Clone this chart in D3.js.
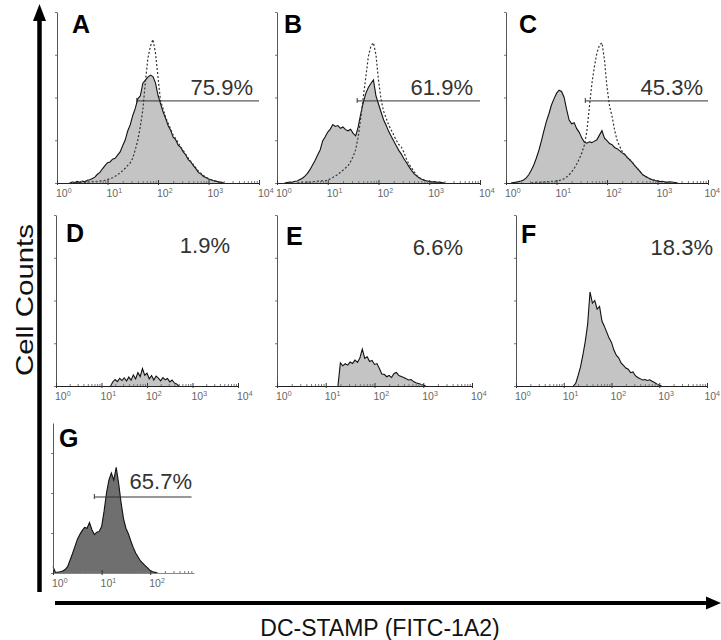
<!DOCTYPE html>
<html>
<head>
<meta charset="utf-8">
<script src="https://cdn.jsdelivr.net/npm/d3@7"></script>
<style>
body { margin: 0; background: #fff; }
text { font-family: "Liberation Sans", Arial, sans-serif; }
</style>
</head>
<body>
<div id="chart"></div>
<script>
// histogram bins are in decades (log10 of channel), one value every binStep
var binStep = 0.05;
var panelLetters = ["A", "B", "C", "D", "E", "F", "G"];
var gateLabels = ["75.9%", "61.9%", "45.3%", "1.9%", "6.6%", "18.3%", "65.7%"];
var decades = [0, 1, 2, 3, 4];
var countTicks = [0, 25, 50, 75, 100];

// sample (filled) histograms
var startA = 0.25;
var countsA = [0, 0.6, 0.3, 0.9, 0.4, 1.1, 0.7, 1.6, 1.9, 2.6, 3.4, 5.1, 6.2, 8.3, 10.2, 11.9, 12.3, 13.9, 14.4, 16.3,
  18.2, 21.8, 25.1, 30.4, 34.0, 39.5, 43.6, 49.2, 51.0, 58.4, 60.2, 61.9, 63.1, 62.2, 58.6, 51.3, 46.4, 41.7, 37.9, 33.6,
  30.9, 26.8, 25.3, 22.1, 20.8, 18.2, 16.4, 13.7, 12.3, 10.1, 8.4, 6.2, 5.3, 3.8, 3.2, 2.3, 1.9, 1.3, 1.1, 0.6, 0.5, 0];
var startB = 0.15;
var countsB = [0, 0.3, 0.6, 0.4, 1.0, 1.2, 2.0, 2.8, 4.0, 5.6, 7.8, 10.5, 13.2, 16.4, 19.3, 24.6, 27.0, 29.8, 31.5, 34.2,
  33.1, 33.6, 32.0, 32.8, 31.2, 30.5, 31.4, 29.0, 27.6, 32.8, 40.5, 47.0, 52.4, 55.8, 58.2, 60.3, 51.0, 46.2, 41.5, 37.0,
  33.8, 30.2, 27.3, 24.6, 21.8, 19.1, 16.9, 14.2, 12.0, 9.6, 7.4, 5.5, 4.2, 3.1, 2.2, 1.6, 1.2, 0.9, 0.6, 0.8, 0.4, 0.5, 0.2, 0];
var startC = 0.1;
var countsC = [0, 0.3, 0.5, 0.8, 1.2, 1.8, 3.0, 4.8, 7.5, 10.5, 14.5, 19.0, 24.5, 30.5, 36.0, 40.5, 45.6, 49.2, 52.4, 54.3,
  53.5, 50.2, 43.0, 36.8, 34.6, 35.3, 31.8, 29.6, 26.4, 24.0, 23.3, 24.1, 23.6, 24.5, 25.3, 28.0, 30.6, 26.2, 24.8, 23.1,
  22.4, 20.8, 20.1, 18.9, 17.6, 16.8, 15.0, 13.6, 12.1, 10.2, 8.6, 6.9, 5.0, 4.1, 3.2, 2.5, 1.9, 1.5, 1.2, 0.8, 1.0, 0.6,
  0.5, 0.7, 0.4, 0.2, 0];
var startD = 1.2;
var countsD = [0, 2.5, 3.8, 2.6, 4.5, 3.2, 4.8, 2.9, 5.2, 3.4, 6.5, 4.1, 7.8, 5.5, 10.2, 6.3, 7.5, 4.2, 6.1, 3.5,
  5.8, 4.6, 3.0, 4.9, 3.6, 4.4, 2.4, 3.5, 1.8, 1.2, 0];
var startE = 1.25;
var countsE = [0, 13.5, 11.8, 13.0, 12.2, 14.0, 13.2, 15.1, 13.8, 16.4, 21.6, 16.2, 17.1, 14.3, 15.0, 12.6, 13.1, 10.2, 7.0, 6.8,
  5.4, 6.2, 5.0, 7.3, 8.0, 6.1, 5.6, 5.0, 4.2, 3.5, 3.8, 2.6, 1.9, 1.5, 1.0, 0.6, 0];
var startF = 1.2;
var countsF = [0, 1.5, 6.0, 11.0, 18.0, 26.0, 36.0, 55.0, 48.5, 50.0, 45.0, 46.5, 38.0, 35.0, 31.5, 28.0, 25.5, 21.0, 18.0, 16.5,
  13.5, 12.0, 10.5, 9.8, 7.8, 8.2, 6.0, 5.0, 4.3, 3.5, 3.8, 3.2, 3.6, 2.8, 2.0, 1.2, 0.5, 0];
var startG = 0;
var countsG = [4.0, 0.5, 0.6, 0.8, 1.2, 2.2, 4.0, 8.0, 12.0, 16.5, 21.0, 24.0, 26.5, 28.5, 28.0, 31.5, 27.0, 24.0, 25.5, 26.0,
  29.0, 38.5, 50.0, 58.0, 62.5, 58.0, 66.0, 56.0, 44.0, 34.0, 28.0, 24.5, 20.0, 16.0, 12.5, 10.0, 7.5, 6.0, 4.5, 3.0,
  1.5, 0.8, 0.4, 0];

// isotype control (dotted) histograms for A-C
var ctrlStartA = 0.3;
var ctrlA = [0, 0.3, 0.5, 0.2, 0.6, 0.4, 0.8, 0.5, 0.9, 0.7, 1.0, 1.2, 1.1, 1.6, 2.0, 2.6, 3.1, 3.9, 4.8, 6.0,
  7.2, 8.6, 10.3, 11.7, 14.5, 19.5, 25.0, 33.0, 43.0, 59.0, 73.0, 80.0, 84.0, 76.0, 62.0, 48.0, 43.5, 38.5, 35.0, 31.5,
  28.0, 26.0, 23.5, 21.0, 19.0, 16.8, 14.5, 12.5, 10.8, 8.8, 7.0, 5.6, 4.4, 3.4, 2.6, 2.0, 1.5, 1.0, 0.7, 0.4, 0];
var ctrlStartB = 0.4;
var ctrlB = [0, 0.3, 0.5, 0.3, 0.7, 0.5, 0.9, 0.8, 1.1, 1.0, 1.4, 1.3, 1.8, 2.4, 3.2, 4.1, 5.0, 6.3, 7.5, 8.8,
  10.0, 12.5, 15.5, 19.5, 27.0, 38.0, 50.0, 62.0, 74.0, 80.0, 82.0, 75.0, 60.0, 49.0, 42.0, 38.0, 34.0, 31.0, 28.0, 25.0,
  22.5, 21.0, 18.0, 14.0, 11.0, 9.0, 6.8, 4.5, 3.2, 2.4, 1.8, 1.3, 1.0, 0.7, 0.5, 0.6, 0.3, 0.2, 0];
var ctrlStartC = 0.5;
var ctrlC = [0, 0.3, 0.5, 0.3, 0.6, 0.5, 0.8, 0.7, 1.0, 0.9, 1.2, 1.4, 1.8, 2.5, 3.5, 4.8, 6.5, 8.5, 11.0, 14.0,
  17.5, 22.0, 30.0, 44.0, 58.0, 68.0, 76.0, 80.5, 82.0, 72.0, 56.0, 45.0, 39.0, 31.0, 25.0, 21.5, 18.5, 16.5, 15.0, 13.6,
  12.1, 10.2, 8.6, 6.9, 5.0, 4.1, 3.2, 2.5, 1.9, 1.5, 1.2, 0.8, 0.6, 0.4, 0.2, 0];

// marker gates: [from decade, to decade, count level]
var gateA = [1.58, 4, 48];
var gateB = [1.58, 4, 48];
var gateC = [1.57, 4, 48];
var gateG = [0.85, 2.85, 47.5];

var panels = [
  { start: startA, counts: countsA, ctrlStart: ctrlStartA, ctrl: ctrlA, gate: gateA },
  { start: startB, counts: countsB, ctrlStart: ctrlStartB, ctrl: ctrlB, gate: gateB },
  { start: startC, counts: countsC, ctrlStart: ctrlStartC, ctrl: ctrlC, gate: gateC },
  { start: startD, counts: countsD },
  { start: startE, counts: countsE },
  { start: startF, counts: countsF },
  { start: startG, counts: countsG, gate: gateG }
];

// pixel layout of each small plot
var layout = [
  { x: 57,  base: 183, w: 202, h: 171, top: 100,   xmax: 4,   lx: 72,  ly: 33,  px: 253, py: 95 },
  { x: 277, base: 183, w: 203, h: 171, top: 100,   xmax: 4,   lx: 284, ly: 33,  px: 473, py: 95 },
  { x: 506, base: 183, w: 202, h: 171, top: 100,   xmax: 4,   lx: 519, ly: 33,  px: 703, py: 95 },
  { x: 56,  base: 386, w: 182, h: 171, top: 100,   xmax: 4,   lx: 66,  ly: 242, px: 230, py: 253 },
  { x: 277, base: 386, w: 195, h: 171, top: 100,   xmax: 4,   lx: 286, ly: 245, px: 463, py: 255 },
  { x: 516, base: 386, w: 191, h: 171, top: 100,   xmax: 4,   lx: 521, ly: 243, px: 713, py: 255 },
  { x: 53,  base: 573, w: 141, h: 150, top: 93.75, xmax: 2.9, lx: 59,  ly: 447, px: 192, py: 489, dark: true }
];

var width = 721, height = 640;
var svg = d3.select("#chart").append("svg")
  .attr("width", width)
  .attr("height", height);

function toPoints(start, counts) {
  return counts.map(function (c, i) { return [start + i * binStep, c]; });
}

panels.forEach(function (p, k) {
  var L = layout[k];
  var g = svg.append("g").attr("transform", "translate(" + L.x + "," + (L.base - L.h) + ")");
  var x = d3.scaleLog().domain([1, Math.pow(10, L.xmax)]).range([0, L.w]);
  var y = d3.scaleLinear().domain([0, L.top]).range([L.h, 0]);
  var px = function (d) { return x(Math.pow(10, d[0])); };

  var pts = toPoints(p.start, p.counts);
  g.append("path").datum(pts)
    .attr("d", d3.area().x(px).y0(L.h).y1(function (d) { return y(d[1]); }))
    .attr("fill", L.dark ? "#6f6f6f" : "#c4c4c4");
  g.append("path").datum(pts)
    .attr("d", d3.line().x(px).y(function (d) { return y(d[1]); }))
    .attr("fill", "none").attr("stroke", "#111").attr("stroke-width", 1.1);

  if (p.ctrl) {
    g.append("path").datum(toPoints(p.ctrlStart, p.ctrl))
      .attr("d", d3.line().x(px).y(function (d) { return y(d[1]); }))
      .attr("fill", "none").attr("stroke", "#333").attr("stroke-width", 1.2)
      .attr("stroke-dasharray", "2,2");
  }

  // y axis: plain line with tiny ticks
  var yt = countTicks.filter(function (t) { return t <= L.top; });
  g.append("g")
    .call(d3.axisLeft(y).tickValues(yt).tickSize(2).tickSizeOuter(0).tickFormat(""))
    .call(function (a) {
      a.select(".domain").attr("stroke", "#555");
      a.selectAll(".tick line").attr("stroke", "#777");
    });

  // x axis: log minor ticks + decades
  var major = decades.filter(function (e) { return e <= L.xmax; }).map(function (e) { return Math.pow(10, e); });
  var minor = x.ticks().filter(function (v) { return major.indexOf(v) < 0; });
  var xa = g.append("g").attr("transform", "translate(0," + L.h + ")");
  xa.call(d3.axisBottom(x).tickValues(minor).tickSize(2).tickSizeOuter(0).tickFormat(""))
    .call(function (a) {
      a.select(".domain").attr("stroke", L.dark ? "#888" : "#222").attr("stroke-width", 1.2);
      a.selectAll(".tick line").attr("stroke", "#777").attr("y1", -2).attr("y2", 0);
    });
  var xm = g.append("g").attr("transform", "translate(0," + L.h + ")");
  xm.call(d3.axisBottom(x).tickValues(major).tickSize(3).tickSizeOuter(0).tickFormat(""))
    .call(function (a) {
      a.select(".domain").remove();
      a.selectAll(".tick line").attr("stroke", "#333").attr("y1", -3).attr("y2", 2);
    });
  var lab = g.selectAll(".declabel").data(major).enter().append("text")
    .attr("class", "declabel")
    .attr("x", function (v) { return x(v) - 1; })
    .attr("y", L.h + 14)
    .attr("font-size", 10.5)
    .attr("fill", "#666");
  lab.append("tspan").text("10");
  lab.append("tspan").attr("dy", -4).attr("font-size", 7)
    .text(function (v) { return Math.round(Math.log10(v)); });
  // keep labels inside the page on the right edge
  lab.each(function () {
    var len = this.getComputedTextLength();
    var lx = +this.getAttribute("x");
    if (L.x + lx + len > width - 1) this.setAttribute("x", width - 1 - L.x - len);
  });

  if (p.gate) {
    var gx0 = x(Math.pow(10, p.gate[0])), gx1 = x(Math.pow(10, p.gate[1])), gy = y(p.gate[2]);
    g.append("line").attr("x1", gx0).attr("x2", gx1).attr("y1", gy).attr("y2", gy)
      .attr("stroke", "#333").attr("stroke-width", 1);
    g.append("line").attr("x1", gx0).attr("x2", gx0).attr("y1", gy - 3).attr("y2", gy + 2)
      .attr("stroke", "#333").attr("stroke-width", 1);
  }

  svg.append("text")
    .attr("x", L.lx).attr("y", L.ly)
    .attr("font-size", 25).attr("font-weight", "bold").attr("fill", "#000")
    .text(panelLetters[k]);
  svg.append("text")
    .attr("x", L.px).attr("y", L.py)
    .attr("text-anchor", "end")
    .attr("font-size", 22).attr("fill", "#333")
    .text(gateLabels[k]);
});

// big axis arrows
svg.append("line").attr("x1", 39.5).attr("x2", 39.5).attr("y1", 592).attr("y2", 18)
  .attr("stroke", "#000").attr("stroke-width", 4.5);
svg.append("path").attr("d", "M39.5,4 L33,21 L46,21 Z").attr("fill", "#000");
svg.append("line").attr("x1", 55).attr("x2", 710).attr("y1", 603).attr("y2", 603)
  .attr("stroke", "#000").attr("stroke-width", 4);
svg.append("path").attr("d", "M721,603 L706,596.5 L706,609.5 Z").attr("fill", "#000");

svg.append("text")
  .attr("transform", "translate(33,300) rotate(-90)")
  .attr("text-anchor", "middle")
  .attr("font-size", 24).attr("fill", "#111")
  .attr("textLength", 152).attr("lengthAdjust", "spacingAndGlyphs")
  .text("Cell Counts");
svg.append("text")
  .attr("x", 380).attr("y", 636)
  .attr("text-anchor", "middle")
  .attr("font-size", 23).attr("fill", "#111")
  .text("DC-STAMP (FITC-1A2)");
</script>
</body>
</html>
